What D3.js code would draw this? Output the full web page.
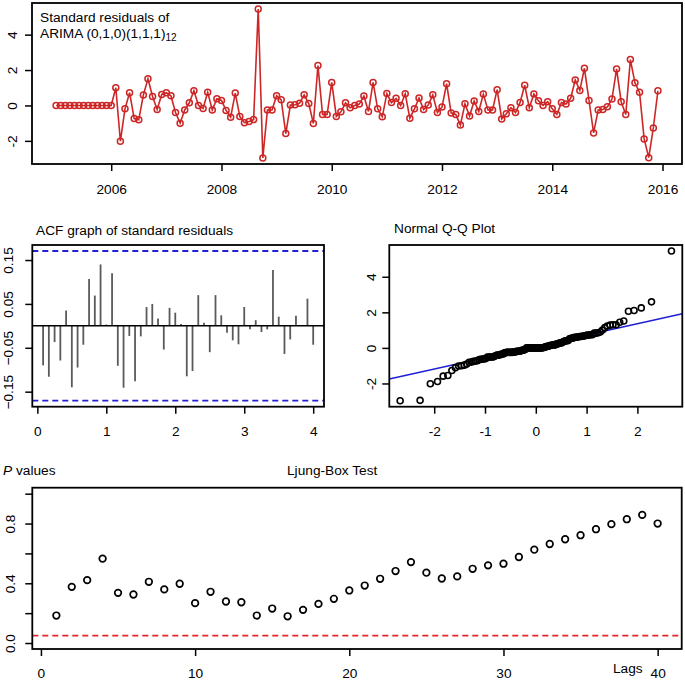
<!DOCTYPE html>
<html><head><meta charset="utf-8">
<script src="https://cdn.jsdelivr.net/npm/d3@7"></script>
<style>
body{margin:0;background:#fff}
svg text{font-family:"Liberation Sans",Arial,Helvetica,sans-serif;fill:#000}
</style></head><body>
<svg id="c" width="685" height="682"></svg>
<script>
// ---------------- DATA ----------------
const startYear = 2005;
const frequency = 12;
const residuals = [
  0,0,0,0,0,0,0,0,0,0,0,0,0,
  1.00,-2.02,-0.19,0.72,-0.74,-0.81,0.59,1.51,0.51,-0.23,0.62,
  0.72,0.55,-0.40,-1.00,-0.25,0.15,0.83,0.00,-0.17,0.74,-0.25,0.38,
  0.28,-0.28,-0.66,0.70,-0.63,-0.97,-0.91,-0.80,5.45,-2.97,-0.26,-0.25,
  0.55,0.32,-1.59,0.02,0.04,0.13,0.60,0.11,-1.02,2.25,-0.51,-0.51,
  1.30,-0.62,-0.36,0.15,-0.13,0.00,0.08,0.53,-0.34,1.30,-0.19,-0.64,
  0.67,0.16,0.40,0.00,0.66,-0.72,-0.19,0.42,-0.23,0.02,0.60,-0.40,
  -0.09,1.23,-0.43,-0.51,-1.11,0.09,-0.60,0.25,-0.34,0.64,-0.25,-0.25,
  0.89,-0.76,-0.47,-0.13,-0.40,0.17,1.14,-0.13,0.64,0.26,0.00,0.21,
  -0.19,-0.51,0.17,0.08,0.40,1.44,0.85,2.10,0.28,-1.55,-0.25,-0.23,
  -0.08,0.36,2.06,0.21,-0.51,2.59,1.28,0.74,-1.89,-2.95,-1.27,0.83
];
const acfValues = [
  -0.090,-0.116,-0.037,-0.079,0.035,-0.140,-0.095,-0.043,0.107,0.069,0.140,0.003,
  0.120,-0.091,-0.141,-0.023,-0.126,-0.024,0.043,0.050,0.017,-0.054,0.041,0.030,
  0.004,-0.115,-0.103,0.070,0.007,-0.060,0.070,0.024,-0.016,-0.033,-0.042,0.043,
  -0.008,0.013,-0.014,-0.008,0.127,0.021,-0.064,-0.031,0.023,0.001,0.062,-0.043
];
const ljungP = [
  0.184,0.376,0.421,0.565,0.336,0.325,0.410,0.359,0.397,0.267,
  0.343,0.278,0.273,0.184,0.231,0.179,0.222,0.262,0.296,0.352,
  0.385,0.430,0.482,0.542,0.471,0.432,0.446,0.497,0.520,0.531,
  0.576,0.625,0.663,0.695,0.722,0.762,0.796,0.829,0.858,0.800
];
const ljungAlpha = 0.05;
const yearTicks = [2006,2008,2010,2012,2014,2016];
const resTicks = [-2,0,2,4];
const acfXTicks = [0,1,2,3,4];
const acfYTicks = [-0.15,-0.05,0.05,0.15];
const qqXTicks = [-2,-1,0,1,2];
const qqYTicks = [-2,0,2,4];
const lbXTicks = [0,10,20,30,40];
const lbYTicks = [0,0.2,0.4,0.6,0.8,1.0];
const lbYLabels = [0,0.4,0.8];

// ---------------- HELPERS ----------------
const svg = d3.select("#c");
const FS = 13.7;
function pad(ext){const r=ext[1]-ext[0];return [ext[0]-0.04*r, ext[1]+0.04*r];}
function qnorm(p){
  const a=[-3.969683028665376e+01,2.209460984245205e+02,-2.759285104469687e+02,1.383577518672690e+02,-3.066479806614716e+01,2.506628277459239e+00];
  const b=[-5.447609879822406e+01,1.615858368580409e+02,-1.556989798598866e+02,6.680131188771972e+01,-1.328068155288572e+01];
  const c=[-7.784894002430293e-03,-3.223964580411365e-01,-2.400758277161838e+00,-2.549732539343734e+00,4.374664141464968e+00,2.938163982698783e+00];
  const d=[7.784695709041462e-03,3.224671290700398e-01,2.445134137142996e+00,3.754408661907416e+00];
  const pl=0.02425, ph=1-pl; let q,r;
  if(p<pl){q=Math.sqrt(-2*Math.log(p));return (((((c[0]*q+c[1])*q+c[2])*q+c[3])*q+c[4])*q+c[5])/((((d[0]*q+d[1])*q+d[2])*q+d[3])*q+1);}
  if(p>ph){q=Math.sqrt(-2*Math.log(1-p));return -(((((c[0]*q+c[1])*q+c[2])*q+c[3])*q+c[4])*q+c[5])/((((d[0]*q+d[1])*q+d[2])*q+d[3])*q+1);}
  q=p-0.5;r=q*q;return (((((a[0]*r+a[1])*r+a[2])*r+a[3])*r+a[4])*r+a[5])*q/(((((b[0]*r+b[1])*r+b[2])*r+b[3])*r+b[4])*r+1);
}
function fmt(v){return String(v);}
function xAxis(g, x, yPix, ticks, labelY, labels){
  const ax = g.append("g").attr("transform",`translate(0,${yPix})`)
    .call(d3.axisBottom(x).tickValues(ticks).tickSizeOuter(0).tickSize(7)
      .tickFormat(d=> labels? (labels.includes(d)?fmt(d):"") : fmt(d)));
  ax.select(".domain").remove();
  ax.selectAll("line").attr("stroke","#000").attr("stroke-width",1.5);
  ax.selectAll("text").attr("font-size",FS).attr("dy",null).attr("y",labelY-yPix)
    .attr("font-family","Liberation Sans, Arial, sans-serif").attr("fill","#000");
}
function yAxis(g, y, xPix, ticks, baseX, labels){
  const ax = g.append("g").attr("transform",`translate(${xPix},0)`)
    .call(d3.axisLeft(y).tickValues(ticks).tickSizeOuter(0).tickSize(7)
      .tickFormat(d=> labels? (labels.includes(d)?d3.format(".1f")(d):"") : (!Number.isInteger(d) ? d3.format(".2f")(d):String(d))));
  ax.select(".domain").remove();
  ax.selectAll("line").attr("stroke","#000").attr("stroke-width",1.5);
  ax.selectAll("text").attr("font-size",FS).attr("dy",null).attr("x",0)
    .attr("y",-(xPix-baseX)).attr("transform","rotate(-90)").attr("text-anchor","middle")
    .attr("font-family","Liberation Sans, Arial, sans-serif").attr("fill","#000");
}
function frame(g, x0,x1,y0,y1){
  g.append("rect").attr("x",x0).attr("y",y0).attr("width",x1-x0).attr("height",y1-y0)
   .attr("fill","none").attr("stroke","#000").attr("stroke-width",1.8);
}

// ---------------- TOP: residual series ----------------
{
  const L=32,R=682,T=3,B=164;
  const g = svg.append("g");
  const times = residuals.map((v,i)=>startYear+i/frequency);
  const x = d3.scaleLinear().domain(pad(d3.extent(times))).range([L,R]);
  const y = d3.scaleLinear().domain(pad(d3.extent(residuals))).range([B,T]);
  const line = d3.line().x((d,i)=>x(times[i])).y(d=>y(d));
  g.append("path").datum(residuals).attr("d",line).attr("fill","none")
   .attr("stroke","#cd2626").attr("stroke-width",1.6);
  g.selectAll("circle.r").data(residuals).join("circle").attr("class","r")
   .attr("cx",(d,i)=>x(times[i])).attr("cy",d=>y(d)).attr("r",3)
   .attr("fill","none").attr("stroke","#cd2626").attr("stroke-width",1.5);
  xAxis(g,x,B,yearTicks,194);
  yAxis(g,y,L,resTicks,17);
  frame(g,L,R,T,B);
  g.append("text").attr("x",40).attr("y",22).attr("font-size",FS).text("Standard residuals of");
  const t2 = g.append("text").attr("x",40).attr("y",38).attr("font-size",FS);
  t2.append("tspan").text("ARIMA (0,1,0)(1,1,1)");
  t2.append("tspan").attr("font-size",10).attr("dy",3).text("12");
}

// ---------------- ACF ----------------
{
  const L=32.3,R=324,T=245,B=406.7;
  const g = svg.append("g");
  const lags = acfValues.map((v,i)=>(i+1)/frequency);
  const bound = 1.96/Math.sqrt(residuals.length);
  const x = d3.scaleLinear().domain(pad(d3.extent(lags))).range([L,R]);
  const y = d3.scaleLinear().domain(pad([-bound,bound])).range([B,T]);
  g.selectAll("line.bar").data(acfValues).join("line").attr("class","bar")
   .attr("x1",(d,i)=>x(lags[i])).attr("x2",(d,i)=>x(lags[i]))
   .attr("y1",y(0)).attr("y2",d=>y(d)).attr("stroke","#5a5a5a").attr("stroke-width",1.8);
  g.append("line").attr("x1",L).attr("x2",R).attr("y1",y(0)).attr("y2",y(0))
   .attr("stroke","#000").attr("stroke-width",1.5);
  [bound,-bound].forEach(b=>g.append("line").attr("x1",L).attr("x2",R).attr("y1",y(b)).attr("y2",y(b))
   .attr("stroke","#2020d8").attr("stroke-width",1.8).attr("stroke-dasharray","6,4"));
  xAxis(g,x,B,acfXTicks,436);
  yAxis(g,y,L,acfYTicks,13);
  frame(g,L,R,T,B);
  g.append("text").attr("x",36).attr("y",235).attr("font-size",FS).text("ACF graph of standard residuals");
}

// ---------------- QQ ----------------
{
  const L=389.3,R=682.3,T=245,B=406.7;
  const g = svg.append("g");
  const n = residuals.length;
  const sorted = residuals.slice().sort((a,b)=>a-b);
  const theo = sorted.map((v,i)=>qnorm((i+1-0.5)/n));
  const x = d3.scaleLinear().domain(pad(d3.extent(theo))).range([L,R]);
  const y = d3.scaleLinear().domain(pad(d3.extent(sorted))).range([B,T]);
  const q1 = d3.quantile(sorted,0.25), q3 = d3.quantile(sorted,0.75);
  const z1 = qnorm(0.25), z3 = qnorm(0.75);
  const slope = (q3-q1)/(z3-z1), icpt = q1 - slope*z1;
  const xd = x.domain();
  g.append("clipPath").attr("id","qqclip").append("rect").attr("x",L).attr("y",T).attr("width",R-L).attr("height",B-T);
  g.append("line").attr("clip-path","url(#qqclip)")
   .attr("x1",x(xd[0])).attr("y1",y(icpt+slope*xd[0])).attr("x2",x(xd[1])).attr("y2",y(icpt+slope*xd[1]))
   .attr("stroke","#1f1fd6").attr("stroke-width",1.5);
  g.selectAll("circle.q").data(sorted).join("circle").attr("class","q")
   .attr("cx",(d,i)=>x(theo[i])).attr("cy",d=>y(d)).attr("r",3)
   .attr("fill","none").attr("stroke","#000").attr("stroke-width",1.6);
  xAxis(g,x,B,qqXTicks,436);
  yAxis(g,y,L,qqYTicks,376);
  frame(g,L,R,T,B);
  g.append("text").attr("x",394).attr("y",233).attr("font-size",FS).text("Normal Q-Q Plot");
}

// ---------------- Ljung-Box ----------------
{
  const L=32.3,R=681.7,T=487.7,B=649;
  const g = svg.append("g");
  const lags = ljungP.map((v,i)=>i+1);
  const x = d3.scaleLinear().domain(pad(d3.extent(lags))).range([L,R]);
  const y = d3.scaleLinear().domain(pad([0,1])).range([B,T]);
  g.append("line").attr("x1",L).attr("x2",R).attr("y1",y(ljungAlpha)).attr("y2",y(ljungAlpha))
   .attr("stroke","#e8262a").attr("stroke-width",1.8).attr("stroke-dasharray","6,4");
  g.selectAll("circle.p").data(ljungP).join("circle").attr("class","p")
   .attr("cx",(d,i)=>x(lags[i])).attr("cy",d=>y(d)).attr("r",3.3)
   .attr("fill","none").attr("stroke","#000").attr("stroke-width",1.7);
  xAxis(g,x,B,lbXTicks,678);
  yAxis(g,y,L,lbYTicks,15,lbYLabels);
  frame(g,L,R,T,B);
  const pv = g.append("text").attr("x",3).attr("y",475).attr("font-size",FS);
  pv.append("tspan").attr("font-style","italic").text("P");
  pv.append("tspan").text(" values");
  g.append("text").attr("x",287).attr("y",475).attr("font-size",FS).text("Ljung-Box Test");
  g.append("text").attr("x",613).attr("y",673).attr("font-size",FS).text("Lags");
}
</script></body></html>
